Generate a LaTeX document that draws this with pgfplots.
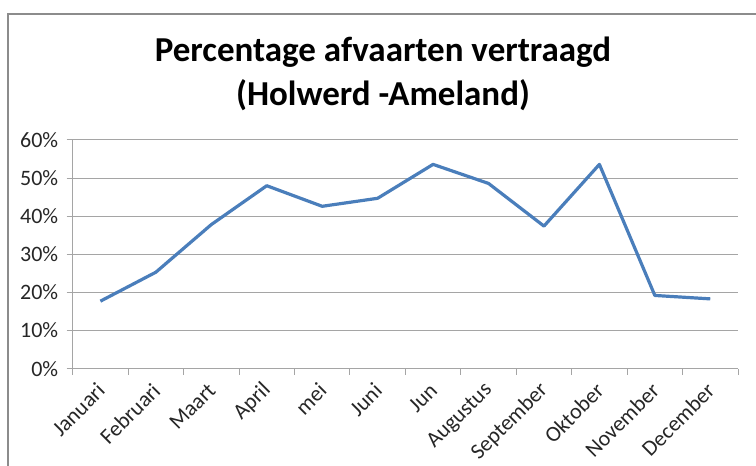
\documentclass[border=0pt]{standalone}
\usepackage{fontspec}
\setmainfont{Carlito}
\usepackage{pgfplots}
\pgfplotsset{compat=1.18}
\definecolor{lineblue}{RGB}{74,126,187}
\definecolor{gridgray}{RGB}{165,165,165}
\definecolor{framegray}{RGB}{140,140,140}
\begin{document}
\begin{tikzpicture}[x=1pt,y=1pt]
\path[use as bounding box] (0,0) rectangle (756,466);
\draw[framegray, line width=1.8pt] (8.3,0) -- (8.3,452) -- (756,452);
\begin{axis}[
  at={(72.7pt,97.4pt)}, anchor=south west,
  scale only axis, width=665.3pt, height=228.6pt,
  xmin=-0.5, xmax=11.5, ymin=0, ymax=60,
  axis x line*=bottom, axis y line*=left,
  axis line style={gridgray, line width=1pt, -},
  tick align=outside,
  xtick={0,...,11},
  xticklabels={Januari,Februari,Maart,April,mei,Juni,Jun,Augustus,September,Oktober,November,December},
  major x tick style={draw=none},
  minor xtick={-0.5,0.5,...,11.5},
  minor tick length=6pt,
  minor x tick style={gridgray, line width=1pt},
  ytick={0,10,...,60},
  major tick length=6pt,
  y tick style={gridgray, line width=1pt},
  ymajorgrids, grid style={gridgray, line width=1pt},
  /pgf/number format/assume math mode=true,
  yticklabel={\pgfmathprintnumber{\tick}\%},
  yticklabel style={font=\fontsize{22}{26}\selectfont, text=black!85, xshift=-5pt},
  xticklabel style={xshift=3pt, yshift=-10pt, rotate=45, anchor=east, font=\fontsize{22}{26}\selectfont, text=black!85},
  clip=false,
]
\addplot[lineblue, line width=3.2pt, mark=none, line join=round] coordinates {
(0,17.7) (1,25.3) (2,37.8) (3,48.0) (4,42.6) (5,44.7)
(6,53.6) (7,48.6) (8,37.4) (9,53.6) (10,19.2) (11,18.3)
};
\end{axis}
\node[anchor=base, font=\fontsize{35}{42}\selectfont\bfseries] at (383,404) {Percentage afvaarten vertraagd};
\node[anchor=base, font=\fontsize{35}{42}\selectfont\bfseries] at (383,360) {(Holwerd -Ameland)};
\end{tikzpicture}
\end{document}
